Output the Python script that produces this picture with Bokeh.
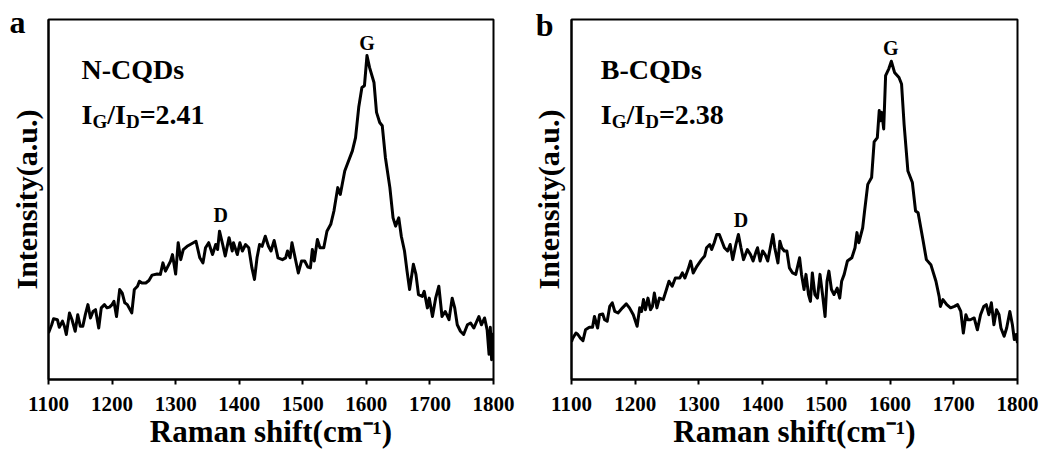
from bokeh.plotting import figure
from bokeh.models import Range1d, Label, FixedTicker, CustomJSTickFormatter
from bokeh.layouts import row
from bokeh.embed import file_html
from bokeh.resources import INLINE

# ---------------- data ----------------
x_ticks = [1100, 1200, 1300, 1400, 1500, 1600, 1700, 1800]

n_shift = [1100, 1105, 1108, 1114, 1117, 1122, 1125, 1128, 1133, 1137, 1142, 1146, 1150, 1154,
           1158, 1162, 1166, 1170, 1174, 1179, 1183, 1188, 1192, 1196, 1200, 1203, 1207, 1212,
           1216, 1220, 1224, 1231, 1235, 1240, 1243, 1247, 1253, 1258, 1263, 1271, 1276, 1280,
           1284, 1288, 1292, 1295, 1300, 1304, 1308, 1312, 1318, 1323, 1332, 1338, 1343, 1347,
           1352, 1358, 1363, 1366, 1369, 1374, 1378, 1384, 1389, 1391, 1397, 1401, 1405, 1410,
           1415, 1420, 1424, 1428, 1432, 1436, 1441, 1446, 1450, 1455, 1461, 1468, 1473, 1476,
           1480, 1483, 1489, 1493, 1498, 1503, 1508, 1512, 1515, 1518, 1523, 1527, 1533, 1538,
           1544, 1549, 1555, 1559, 1566, 1570, 1578, 1583, 1588, 1593, 1597, 1601, 1605, 1612,
           1616, 1621, 1625, 1630, 1637, 1642, 1646, 1651, 1655, 1660, 1664, 1668, 1674, 1678,
           1682, 1688, 1691, 1696, 1699, 1704, 1709, 1714, 1719, 1724, 1730, 1735, 1739, 1743,
           1748, 1753, 1759, 1764, 1769, 1777, 1781, 1786, 1790, 1793, 1795, 1797, 1800]
n_int = [12.9, 15.2, 16.9, 16.6, 14.5, 16.2, 14.8, 12.5, 18.5, 16.6, 13.4, 18.0, 14.8, 14.8,
         18.1, 20.8, 17.1, 18.9, 19.4, 14.3, 19.9, 20.8, 19.9, 20.1, 20.8, 21.7, 17.5, 25.0,
         24.0, 21.3, 20.8, 18.5, 25.0, 25.9, 27.3, 26.8, 26.8, 27.5, 29.0, 29.3, 29.2, 32.4,
         30.1, 31.5, 32.9, 34.7, 29.3, 38.0, 33.3, 36.1, 37.0, 37.5, 38.4, 33.8, 32.4, 36.6,
         38.0, 34.7, 37.5, 36.1, 41.2, 37.5, 34.3, 39.4, 35.7, 38.0, 34.7, 38.0, 35.7, 37.5,
         36.6, 31.0, 27.8, 33.8, 37.5, 37.0, 39.8, 37.0, 35.7, 38.6, 33.8, 33.3, 33.8, 35.7,
         33.8, 38.0, 32.9, 29.6, 32.9, 32.9, 31.2, 31.0, 36.1, 32.9, 38.9, 36.6, 36.6, 41.2,
         43.1, 46.8, 53.3, 51.4, 57.9, 59.8, 63.5, 67.2, 75.6, 81.1, 81.6, 90.0, 86.7, 82.5,
         74.2, 71.4, 70.5, 61.6, 53.3, 44.9, 42.6, 44.9, 39.8, 35.7, 30.1, 25.0, 32.0, 29.2,
         23.6, 23.1, 24.5, 19.9, 22.6, 17.5, 22.6, 25.9, 17.5, 18.9, 16.6, 22.6, 19.9, 15.2,
         13.4, 12.5, 15.2, 15.7, 14.3, 17.5, 15.2, 17.1, 13.8, 7.0, 14.5, 5.5, 13.0]

b_shift = [1100, 1102, 1107, 1110, 1114, 1118, 1122, 1128, 1133, 1136, 1141, 1144, 1149, 1152,
           1156, 1160, 1164, 1168, 1173, 1180, 1186, 1191, 1197, 1203, 1207, 1210, 1213, 1216,
           1220, 1224, 1227, 1230, 1234, 1238, 1244, 1249, 1253, 1258, 1263, 1270, 1274, 1278,
           1283, 1287, 1291, 1297, 1304, 1309, 1312, 1317, 1320, 1324, 1328, 1332, 1337, 1340,
           1345, 1349, 1353, 1358, 1362, 1366, 1370, 1376, 1381, 1385, 1390, 1392, 1396, 1400,
           1404, 1408, 1412, 1416, 1419, 1424, 1427, 1430, 1434, 1438, 1442, 1447, 1452, 1458,
           1461, 1465, 1468, 1472, 1475, 1478, 1482, 1486, 1490, 1494, 1498, 1501, 1504, 1508,
           1512, 1517, 1521, 1524, 1528, 1533, 1540, 1545, 1548, 1551, 1557, 1560, 1565, 1571,
           1575, 1580, 1583, 1585, 1587, 1590, 1593, 1598, 1602, 1607, 1614, 1618, 1622, 1628,
           1635, 1640, 1644, 1652, 1657, 1664, 1672, 1677, 1679, 1683, 1689, 1695, 1701, 1706,
           1711, 1715, 1719, 1722, 1726, 1732, 1737, 1742, 1747, 1751, 1755, 1759, 1763, 1767,
           1771, 1774, 1779, 1783, 1788, 1792, 1795, 1798, 1800]
b_int = [10.5, 11.5, 12.9, 12.5, 11.5, 10.8, 13.8, 14.5, 14.5, 17.5, 14.3, 18.0, 18.2, 16.6,
         16.2, 20.3, 21.3, 18.9, 18.5, 19.9, 21.0, 19.9, 18.0, 14.8, 19.9, 18.9, 22.2, 19.4,
         22.6, 19.4, 20.3, 24.0, 19.9, 22.6, 22.2, 25.0, 27.3, 25.9, 28.2, 28.2, 29.6, 28.2,
         30.6, 32.9, 29.6, 31.5, 33.3, 34.3, 36.6, 37.5, 36.1, 38.0, 40.3, 40.3, 38.0, 36.6,
         35.7, 37.5, 33.3, 37.5, 40.3, 36.6, 33.3, 36.1, 34.7, 32.9, 35.7, 36.6, 32.9, 35.7,
         34.7, 32.9, 36.6, 40.3, 36.6, 32.4, 38.4, 36.6, 35.7, 35.7, 31.0, 29.6, 29.2, 33.8,
         29.2, 25.0, 29.2, 23.6, 21.7, 29.6, 23.6, 22.6, 29.2, 23.6, 17.5, 27.3, 30.1, 25.0,
         23.6, 25.4, 22.6, 27.3, 29.2, 32.9, 33.8, 36.6, 40.8, 38.0, 42.1, 46.8, 54.2, 56.1,
         66.0, 67.2, 74.7, 71.9, 74.2, 69.6, 84.4, 86.3, 88.4, 85.3, 83.9, 82.1, 70.9, 57.9,
         54.7, 46.8, 46.3, 38.4, 33.3, 31.9, 27.3, 23.1, 20.3, 22.2, 20.8, 19.9, 20.3, 20.8,
         18.9, 12.9, 18.0, 16.6, 16.6, 17.1, 13.8, 18.0, 20.3, 20.8, 18.0, 21.3, 15.2, 19.4,
         18.0, 14.3, 12.0, 14.3, 18.9, 15.2, 11.1, 12.5, 10.1]

panels = [
    dict(letter="a", name="N-CQDs", ratio="=2.41", xs=n_shift, ys=n_int,
         g_pos=(1601, 93.6), d_pos=(1371, 45.7), text_x=1152, letter_y=99.2,
         letter_standoff=23, title_standoff=-36),
    dict(letter="b", name="B-CQDs", ratio="=2.38", xs=b_shift, ys=b_int,
         g_pos=(1601, 92.1), d_pos=(1366, 44.3), text_x=1146, letter_y=98.6,
         letter_standoff=18, title_standoff=-32),
]

FONT = "Liberation Serif"


def lab(p, x, y, text, size, dx=0, dy=0, align="left", baseline="middle"):
    p.add_layout(Label(x=x, y=y, x_offset=dx, y_offset=dy, text=text,
                       text_font=FONT, text_font_style="bold", text_font_size=size,
                       text_color="black", text_align=align, text_baseline=baseline))


def make_panel(cfg, width, bl, br):
    p = figure(width=width, height=451, x_range=Range1d(1100, 1800), y_range=Range1d(0, 100),
               output_backend="svg", toolbar_location=None,
               min_border_left=bl, min_border_right=br, min_border_top=19, min_border_bottom=0)
    p.line(cfg["xs"], cfg["ys"], line_color="black", line_width=3, line_join="round")
    p.grid.visible = False
    p.outline_line_color = "black"
    p.outline_line_width = 2
    p.outline_line_alpha = 1
    p.background_fill_color = "white"
    p.border_fill_color = "white"

    xa = p.xaxis[0]
    xa.ticker = FixedTicker(ticks=x_ticks)
    xa.major_label_text_font = FONT
    xa.major_label_text_font_style = "bold"
    xa.major_label_text_font_size = "21px"
    xa.major_label_text_color = "black"
    xa.major_label_standoff = 12
    xa.major_tick_out = 5
    xa.major_tick_in = 0
    xa.minor_tick_out = 0
    xa.minor_tick_in = 0
    xa.major_tick_line_width = 2
    xa.axis_line_width = 2
    xa.axis_line_color = "black"
    xa.axis_label = "Raman shift(cm\u207b\u00b9)"
    xa.axis_label_text_font = FONT
    xa.axis_label_text_font_style = "bold"
    xa.axis_label_text_font_size = "31px"
    xa.axis_label_text_color = "black"
    xa.axis_label_standoff = 0

    # left axis: no numeric ticks; its single tick label carries the panel letter
    ya = p.yaxis[0]
    ya.ticker = FixedTicker(ticks=[cfg["letter_y"]])
    ya.formatter = CustomJSTickFormatter(code="return '%s';" % cfg["letter"])
    ya.major_label_text_font = FONT
    ya.major_label_text_font_style = "bold"
    ya.major_label_text_font_size = "32px"
    ya.major_label_text_color = "black"
    ya.major_label_standoff = cfg["letter_standoff"]
    ya.major_tick_out = 0
    ya.major_tick_in = 0
    ya.minor_tick_out = 0
    ya.minor_tick_in = 0
    ya.axis_line_width = 2
    ya.axis_line_color = "black"
    ya.axis_label = "Intensity(a.u.)"
    ya.axis_label_text_font = FONT
    ya.axis_label_text_font_style = "bold"
    ya.axis_label_text_font_size = "30px"
    ya.axis_label_text_color = "black"
    ya.axis_label_standoff = cfg["title_standoff"]

    tx = cfg["text_x"]
    lab(p, tx, 86.0, cfg["name"], "28px")
    lab(p, tx, 73.5, "I", "28px", dx=0)
    lab(p, tx, 73.5, "G", "19px", dx=10.9, dy=-7)
    lab(p, tx, 73.5, "/I", "28px", dx=25.7)
    lab(p, tx, 73.5, "D", "19px", dx=44.4, dy=-7)
    lab(p, tx, 73.5, cfg["ratio"], "28px", dx=58.1)
    lab(p, cfg["g_pos"][0], cfg["g_pos"][1], "G", "20px", align="center")
    lab(p, cfg["d_pos"][0], cfg["d_pos"][1], "D", "20px", align="center")
    return p


pa = make_panel(panels[0], 528, 48, 35)
pb = make_panel(panels[1], 515, 42, 26)
layout = row(pa, pb)

open("out.html", "w").write(file_html(layout, INLINE))
